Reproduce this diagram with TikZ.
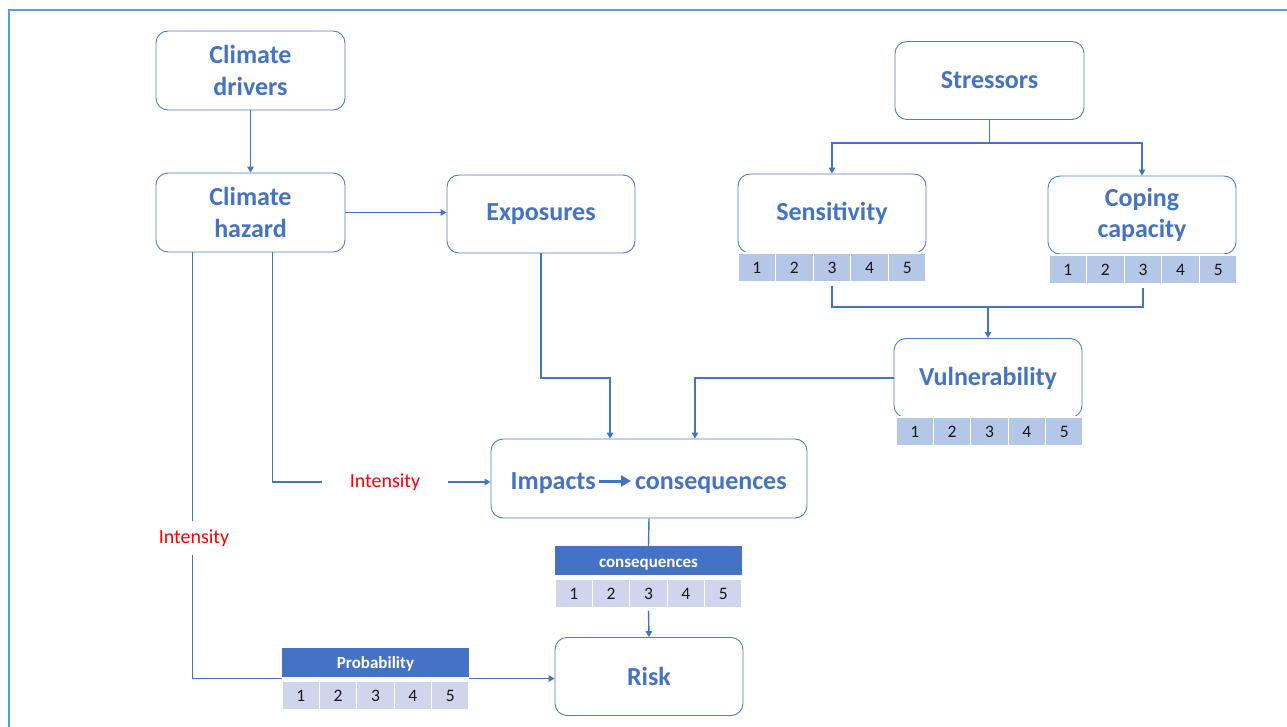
\documentclass[tikz,border=0pt]{standalone}
\usepackage{fontspec}
\setmainfont{Carlito}
\usetikzlibrary{arrows.meta,calc}
\definecolor{titlec}{HTML}{4472C4}
\definecolor{linec}{HTML}{4472C4}
\definecolor{boxc}{HTML}{4F7BC9}
\definecolor{framec}{HTML}{5B9BD5}
\definecolor{cellA}{HTML}{B4C7E7}
\definecolor{cellB}{HTML}{CFD5EA}
\definecolor{hdrc}{HTML}{4472C4}
\definecolor{redc}{HTML}{FF0000}
\newcommand\scalecells[6]{%
  \foreach \i in {1,...,5}{%
    \node[cell, fill=#6, minimum width=#4/5, minimum height=#5] (#1-\i) at ({#2+(\i-0.5)*#4/5}, {#3+#5/2}) {\i};
  }}
\begin{document}
\begin{tikzpicture}[x=1pt, y=-1pt,
  box/.style={draw=boxc, rounded corners=12pt, line width=0.9pt, fill=white,
    minimum width=189pt, minimum height=79pt, text=titlec,
    font=\bfseries\fontsize{26}{31.5}\selectfont, align=center, inner sep=0pt},
  ttl/.style={text=titlec, font=\bfseries\fontsize{26}{31.5}\selectfont, inner sep=0pt},
  cell/.style={draw=white, line width=1.2pt, inner sep=0pt, text=black!90,
    text height=11.5pt, text depth=0pt, font=\fontsize{17.5}{20}\selectfont},
  hdr/.style={fill=hdrc, inner sep=0pt, minimum width=187pt, minimum height=29pt,
    text height=14pt, text depth=1pt, text=white, font=\bfseries\fontsize{17}{20}\selectfont},
  inten/.style={text=redc, font=\fontsize{20}{24}\selectfont, inner sep=0pt},
  conn/.style={draw=linec, line width=1.4pt},
  arr/.style={conn, -{Triangle[length=6pt, width=6.5pt]}},
]
\useasboundingbox (0,0) rectangle (1287,727);
\clip (0,0) rectangle (1287,727);
\draw[framec, line width=2pt] (9,10) rectangle (1310,760);

% boxes
\node[box] (drv) at (250.5,70.5) {Climate\\drivers};
\node[box] (haz) at (250.5,212.5) {Climate\\hazard};
\node[box, minimum width=188pt, minimum height=78pt] (exp) at (541,214) {Exposures};
\node[box, minimum height=78pt] (str) at (989.5,80.5) {Stressors};
\node[box, minimum width=188pt] (sen) at (832,213.5) {Sensitivity};
\node[box, minimum width=188pt, minimum height=78pt] (cop) at (1142,215) {Coping\\capacity};
\node[box, minimum width=188pt] (vul) at (988,378) {Vulnerability};
\node[box, minimum width=316pt] (imp) at (649,478.5) {};
\node[box, minimum width=188pt, minimum height=78pt] (risk) at (649,676.5) {Risk};

\node[ttl, anchor=base east] (impa) at (596,489) {Impacts};
\node[ttl, anchor=base west] (impc) at (635,489) {consequences};
\draw[draw=linec, line width=3pt, -{Triangle[length=10pt, width=11pt]}]
  ([xshift=3pt,yshift=-2.5pt]impa.east |- imp.center) -- ([xshift=-4pt,yshift=-2.5pt]impc.west |- imp.center);

% scales
\scalecells{sens}{738}{253}{188}{29}{cellA}
\scalecells{cope}{1049}{255}{188}{29}{cellA}
\scalecells{vuls}{896}{417}{187}{29}{cellA}
\node[hdr] (conh) at (648.5,560.5) {consequences};
\scalecells{cons}{555}{579}{187}{29}{cellB}
\node[hdr] (probh) at (375.5,662) {Probability};
\scalecells{prob}{282}{681}{187}{29}{cellB}

% labels
\node[inten, inner xsep=28pt] (int1) at (385,482) {Intensity};
\node[inten, minimum height=33pt] (int2) at (194,538) {Intensity};

% connectors
\draw[arr] (drv.south) -- (haz.north);
\draw[arr] (haz.east) -- (haz.east -| exp.west);

\coordinate (sj) at (989.5,143);
\draw[conn] (str.south) -- (sj);
\draw[arr] (sj) -| (sen.north);
\draw[arr] (sj) -| (cop.north);

\coordinate (vj) at (988,307);
\draw[conn] ([yshift=-3pt]sens-3.south) |- (vj) -| ([yshift=-3pt]cope-3.south);
\draw[arr] (vj) -- (vul.north);

\coordinate (ej) at (610,378);
\draw[arr] (exp.south) |- (ej) -- (ej |- imp.north);
\coordinate (vk) at (695,439);
\draw[arr] (vul.west) -| (vk |- imp.north);

\draw[conn] ([xshift=117pt]haz.south west) |- (int1.west);
\draw[arr] (int1.east) -- (int1.east -| imp.west);

\coordinate (hl) at ([xshift=37pt]haz.south west);
\draw[conn] (hl) -- (hl |- int2.north);
\coordinate (pl) at ($(probh.south west)!0.5!(prob-1.north west)$);
\coordinate (pr) at ($(probh.south east)!0.5!(prob-5.north east)$);
\draw[conn] (hl |- int2.south) |- (pl);
\draw[arr] (pr) -- (pr -| risk.west);

\draw[conn] (imp.south) -- (conh.north);
\draw[arr] ([yshift=-2pt]cons-3.south) -- (risk.north);
\end{tikzpicture}
\end{document}
